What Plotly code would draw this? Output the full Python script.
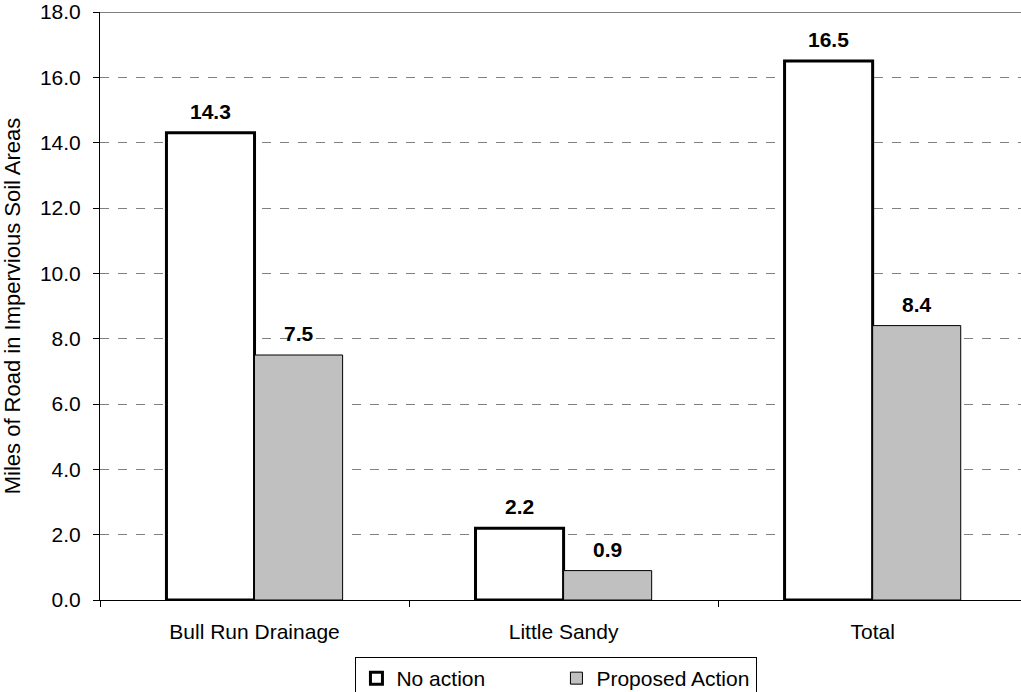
import plotly.graph_objects as go

categories = ["Bull Run Drainage", "Little Sandy", "Total"]
no_action = [14.3, 2.2, 16.5]
proposed_action = [7.5, 0.9, 8.4]
y_ticks = [0, 2, 4, 6, 8, 10, 12, 14, 16, 18]
y_tick_labels = ["0.0", "2.0", "4.0", "6.0", "8.0", "10.0", "12.0", "14.0", "16.0", "18.0"]

font_family = "Liberation Sans, Arial, sans-serif"
FS = 21

W, H = 1021, 692
margin_l, margin_r, margin_t, margin_b = 100, 0, 12, 92
x_range = [-0.5, 2.48]
bargap = 0.43
plot_w = W - margin_l - margin_r
px_per_cat = plot_w / (x_range[1] - x_range[0])
bar_px = (1 - bargap) * px_per_cat / 2

fig = go.Figure()
fig.add_trace(go.Bar(
    name="No action", x=categories, y=no_action,
    marker=dict(color="white", line=dict(color="black", width=3)),
))
fig.add_trace(go.Bar(
    name="Proposed Action", x=categories, y=proposed_action,
    marker=dict(color="#C0C0C0", line=dict(color="black", width=1)),
))

for vals, sign in ((no_action, -1), (proposed_action, 1)):
    for c, v in zip(categories, vals):
        fig.add_annotation(
            x=c, y=v, text=f"<b>{v:.1f}</b>", showarrow=False,
            xanchor="center", yanchor="bottom", xshift=sign * bar_px / 2, yshift=8,
            font=dict(family=font_family, size=FS, color="black"),
        )

fig.update_layout(
    width=W, height=H,
    margin=dict(l=margin_l, r=margin_r, t=margin_t, b=margin_b, autoexpand=False),
    paper_bgcolor="white", plot_bgcolor="white",
    barmode="group", bargap=bargap, bargroupgap=0,
    font=dict(family=font_family, size=FS, color="black"),
    showlegend=True,
    legend=dict(
        orientation="h", xref="container", yref="container",
        x=0.545, xanchor="center", y=1 - 657 / 692, yanchor="top",
        bordercolor="black", borderwidth=1, bgcolor="white",
        font=dict(size=FS), entrywidth=155, itemwidth=30,
    ),
    xaxis=dict(
        range=x_range, showline=True, linecolor="black", linewidth=1,
        ticks="outside", tickson="boundaries", ticklen=6, tickcolor="black",
        tickfont=dict(size=FS), showgrid=False, zeroline=False, automargin=False,
        ticklabelstandoff=13,
    ),
    yaxis=dict(
        range=[0, 18], tickvals=y_ticks, ticktext=y_tick_labels,
        showline=True, linecolor="black", linewidth=1,
        ticks="outside", ticklen=6, tickcolor="black",
        showgrid=True, gridcolor="#808080", griddash="dash", gridwidth=1,
        zeroline=False, tickfont=dict(size=FS), automargin=False,
        ticklabelstandoff=8, ticklabeloverflow="allow",
        title=dict(text="Miles of Road in Impervious Soil Areas", font=dict(size=22), standoff=14),
    ),
)
fig.add_shape(type="line", xref="paper", yref="y", x0=0, x1=1, y0=18, y1=18,
              line=dict(color="#808080", width=2))

fig.write_html(
    "out.html",
    config={"displayModeBar": False},
    post_script="document.body.style.margin='0px';document.body.style.overflow='hidden';",
)
